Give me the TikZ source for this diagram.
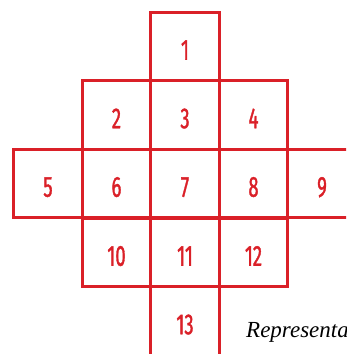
\documentclass[tikz,border=0pt]{standalone}
\usepackage{fontspec}
\setmainfont{Liberation Serif}
\newfontfamily\cellfont[FakeStretch=0.64,FakeBold=1.2]{Fira Sans}
\definecolor{gridred}{RGB}{218,32,40}
\tikzset{
  cell/.style={draw=gridred, line width=3.2pt, minimum size=68.5pt, inner sep=0pt,
    text=gridred, font=\cellfont\fontsize{29}{29}\selectfont,
    text height=26.5pt, text depth=0pt},
}
\begin{document}
\begin{tikzpicture}[x=1pt,y=-1pt]
\useasboundingbox (0,0) rectangle (346,354);
\clip (0,0) rectangle (346,354);
\node[cell] (c1) at (185,46.5) {1};
\node[cell] (c2) at (116.5,115) {2};
\node[cell] (c3) at (185,115) {3};
\node[cell] (c4) at (253.5,115) {4};
\node[cell] (c5) at (48,183.5) {5};
\node[cell] (c6) at (116.5,183.5) {6};
\node[cell] (c7) at (185,183.5) {7};
\node[cell] (c8) at (253.5,183.5) {8};
\node[cell] (c9) at (322,183.5) {9};
\node[cell] (c10) at (116.5,252.5) {10};
\node[cell] (c11) at (185,252.5) {11};
\node[cell] (c12) at (253.5,252.5) {12};
\node[cell] (c13) at (185,321) {13};
\node[anchor=base west, inner sep=0pt, font=\itshape\fontsize{23}{23}\selectfont] (caption) at (246,337) {Representation};
\end{tikzpicture}
\end{document}
